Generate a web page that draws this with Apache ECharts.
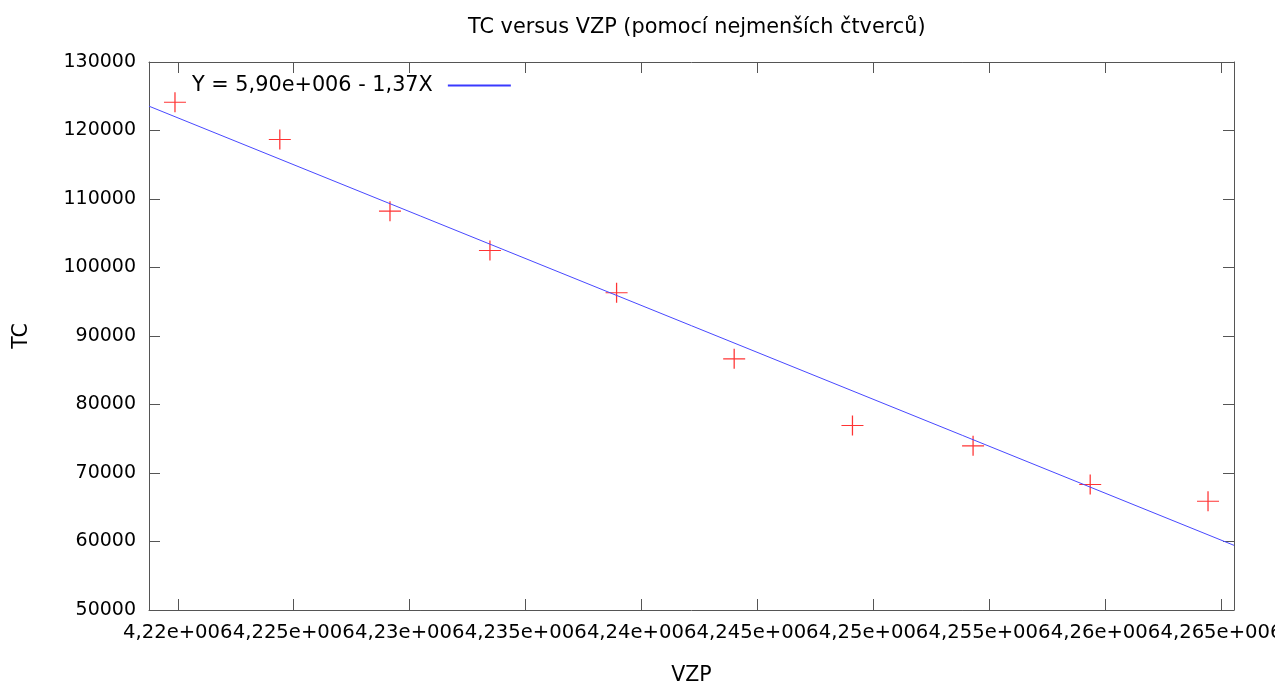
<!DOCTYPE html>
<html>
<head>
<meta charset="utf-8">
<script src="https://cdn.jsdelivr.net/npm/echarts@6/dist/echarts.min.js"></script>
<style>html,body{margin:0;padding:0;background:#fff}#c{width:1275px;height:686px}</style>
</head>
<body>
<div id="c"></div>
<script>
const vzp = [4219880, 4224400, 4229150, 4233460, 4238920, 4243990, 4249090, 4254290, 4259340, 4264420];
const tc = [124130, 118690, 108220, 102480, 96310, 86670, 76930, 73970, 68320, 65880];
const fitX = [4218760, 4265540];
const fitY = [123550, 59440];
const fitName = 'Y = 5,90e+006 - 1,37X';
const xTicks = [4220000, 4225000, 4230000, 4235000, 4240000, 4245000, 4250000, 4255000, 4260000, 4265000];
const xTickLabels = ['4,22e+006', '4,225e+006', '4,23e+006', '4,235e+006', '4,24e+006', '4,245e+006', '4,25e+006', '4,255e+006', '4,26e+006', '4,265e+006'];
const yTicks = [50000, 60000, 70000, 80000, 90000, 100000, 110000, 120000, 130000];
const xMin = 4218760, xMax = 4265540;
const yMin = 50000, yMax = 130000, yStep = 10000;

const font = 'DejaVu Sans';
const axisCol = '#555';
const lineCol = '#4848ff';
const chart = echarts.init(document.getElementById('c'));
const scatterData = vzp.map((v, i) => [v, tc[i]]);
const fitData = fitX.map((v, i) => [v, fitY[i]]);

chart.setOption({
  animation: false,
  backgroundColor: '#fff',
  title: {
    text: 'TC versus VZP (pomocí nejmenších čtverců)',
    left: 463, top: 12,
    textStyle: {fontFamily: font, fontSize: 20.8, fontWeight: 'normal', color: '#000'}
  },
  legend: {
    data: [{
      name: fitName, icon: 'rect',
      itemStyle: {color: '#3a3aff', borderColor: '#3a3aff', borderWidth: 0},
      lineStyle: {color: '#3a3aff', width: 0}
    }],
    left: 192, top: 75, padding: 0,
    align: 'right',
    itemWidth: 63, itemHeight: 2,
    textStyle: {fontFamily: font, fontSize: 20.8, color: '#000', padding: [0, 10, 0, 0]}
  },
  grid: {left: 149, right: 41, top: 62, bottom: 76, containLabel: false, outerBoundsMode: 'none'},
  xAxis: [{
    type: 'value', min: xMin, max: xMax, position: 'bottom',
    name: 'VZP', nameLocation: 'middle', nameGap: 55,
    nameTextStyle: {fontFamily: font, fontSize: 20.5, color: '#000'},
    axisLine: {show: true, lineStyle: {color: axisCol, width: 1}},
    axisTick: {show: true, inside: true, length: 11, customValues: xTicks, lineStyle: {color: axisCol}},
    axisLabel: {
      show: true, customValues: xTicks, margin: 13,
      fontFamily: font, fontSize: 19.6, color: '#000',
      formatter: v => xTickLabels[xTicks.indexOf(v)] || ''
    },
    splitLine: {show: false}
  }, {
    type: 'value', min: xMin, max: xMax, position: 'top',
    axisLine: {show: true, lineStyle: {color: axisCol, width: 1}},
    axisTick: {show: true, inside: true, length: 11, customValues: xTicks, lineStyle: {color: axisCol}},
    axisLabel: {show: false},
    splitLine: {show: false}
  }],
  yAxis: [{
    type: 'value', min: yMin, max: yMax, interval: yStep, position: 'left',
    name: 'TC', nameLocation: 'middle', nameGap: 117, nameRotate: 90,
    nameTextStyle: {fontFamily: font, fontSize: 20.5, color: '#000'},
    axisLine: {show: true, lineStyle: {color: axisCol, width: 1}},
    axisTick: {show: true, inside: true, length: 11, lineStyle: {color: axisCol}},
    axisLabel: {show: true, margin: 13, fontFamily: font, fontSize: 19, color: '#000',
      formatter: v => String(yTicks[yTicks.indexOf(v)])},
    splitLine: {show: false}
  }, {
    type: 'value', min: yMin, max: yMax, interval: yStep, position: 'right',
    axisLine: {show: true, lineStyle: {color: axisCol, width: 1}},
    axisTick: {show: true, inside: true, length: 11, lineStyle: {color: axisCol}},
    axisLabel: {show: false},
    splitLine: {show: false}
  }],
  series: [{
    type: 'scatter', name: 'data', xAxisIndex: 0, yAxisIndex: 0,
    data: scatterData,
    symbol: 'path://M10,0 L10,20 M0,10 L20,10',
    symbolSize: [22, 20],
    itemStyle: {color: 'rgba(0,0,0,0)', borderColor: '#ff0000', borderWidth: 1.2}
  }, {
    type: 'line', name: fitName, xAxisIndex: 0, yAxisIndex: 0,
    data: fitData, showSymbol: false, symbol: 'none',
    color: lineCol,
    lineStyle: {color: lineCol, width: 1},
    itemStyle: {color: lineCol},
    clip: true
  }]
});
</script>
</body>
</html>
